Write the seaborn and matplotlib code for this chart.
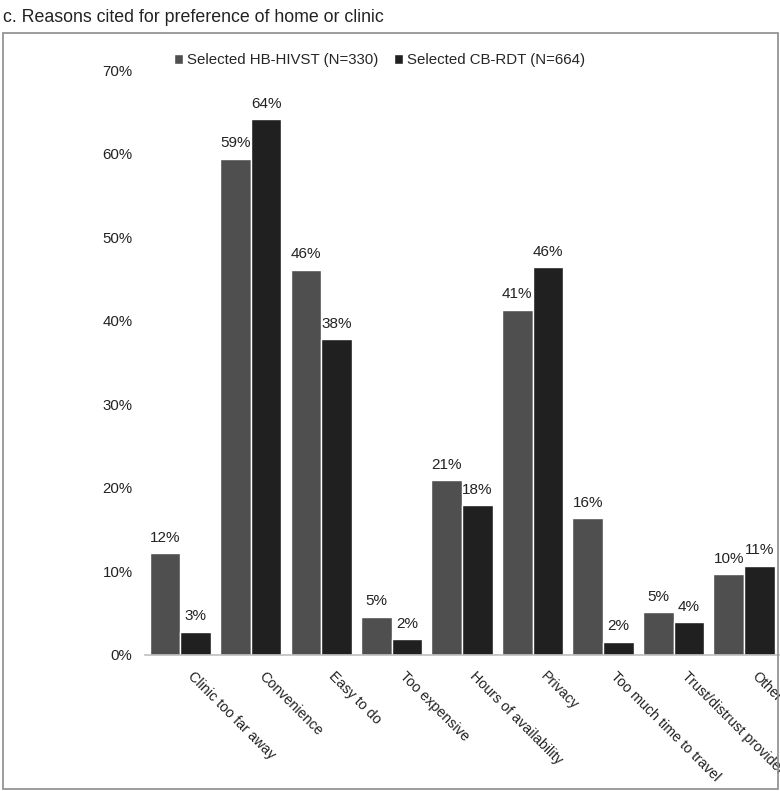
import pandas as pd
import matplotlib.pyplot as plt
import matplotlib.patches as mpatches
import matplotlib.transforms as mtransforms
import seaborn as sns

# categorias y valores (%)
categorias = ['Clinic too far away', 'Convenience', 'Easy to do', 'Too expensive',
              'Hours of availability', 'Privacy', 'Too much time to travel',
              'Trust/distrust provider', 'Other']
hb_hivst = [12.2, 59.4, 46.1, 4.6, 20.9, 41.3, 16.4, 5.1, 9.7]
cb_rdt = [2.8, 64.1, 37.8, 1.9, 17.9, 46.4, 1.6, 3.9, 10.7]
series = ['Selected HB-HIVST (N=330)', 'Selected CB-RDT (N=664)']
colores = ['#4f4f4f', '#202020']

df = pd.DataFrame({
    'Reason': categorias * 2,
    'Pct': hb_hivst + cb_rdt,
    'Group': [series[0]] * len(categorias) + [series[1]] * len(categorias),
})

sns.set_style('white')
plt.rcParams['font.family'] = ['Liberation Sans', 'DejaVu Sans']

fig = plt.figure(figsize=(7.8, 7.91), dpi=100)
ax = fig.add_axes([0.186, 0.172, 0.813, 0.7395])

sns.barplot(data=df, x='Reason', y='Pct', hue='Group', palette=colores,
            width=0.87, gap=0, saturation=1, ax=ax, errorbar=None)

for cont in ax.containers:
    ax.bar_label(cont, labels=[f'{round(v.get_height())}%' for v in cont],
                 padding=6, fontsize=11, color='#222222')

ax.set_ylim(0, 70)
ax.set_xlim(-0.5, 8.5)
ax.set_yticks(range(0, 71, 10))
ax.set_yticklabels([f'{t}%' for t in range(0, 71, 10)], fontsize=10.8, color='#222222')
ax.tick_params(axis='y', length=0, pad=9)
ax.tick_params(axis='x', length=0, pad=10)
ax.set_xticks(range(len(categorias)))
ax.set_xticklabels(categorias, rotation=-45, ha='left', rotation_mode='anchor',
                   fontsize=10.3, color='#222222')
desplazar = mtransforms.ScaledTranslation(15 / 100, 0, fig.dpi_scale_trans)
for lab in ax.get_xticklabels():
    lab.set_transform(lab.get_transform() + desplazar)
ax.set_xlabel('')
ax.set_ylabel('')
for s in ['top', 'right', 'left']:
    ax.spines[s].set_visible(False)
ax.spines['bottom'].set_color('#bfbfbf')
ax.spines['bottom'].set_linewidth(1.2)

ax.legend(loc='center left', bbox_to_anchor=(0.215, 0.924), bbox_transform=fig.transFigure,
          ncol=2, frameon=False, fontsize=10.8, handlelength=0.6, handleheight=0.6,
          handletextpad=0.3, columnspacing=1.0, borderaxespad=0)

# marco exterior y titulo
fig.patches.append(mpatches.Rectangle((0.004, 0.003), 0.994, 0.955, transform=fig.transFigure,
                                      fill=False, edgecolor='#8c8c8c', linewidth=1.2))
fig.text(0.004, 0.988, 'c. Reasons cited for preference of home or clinic',
         fontsize=12.8, va='top', ha='left', color='#222222')

plt.savefig('out.png', dpi=100)
